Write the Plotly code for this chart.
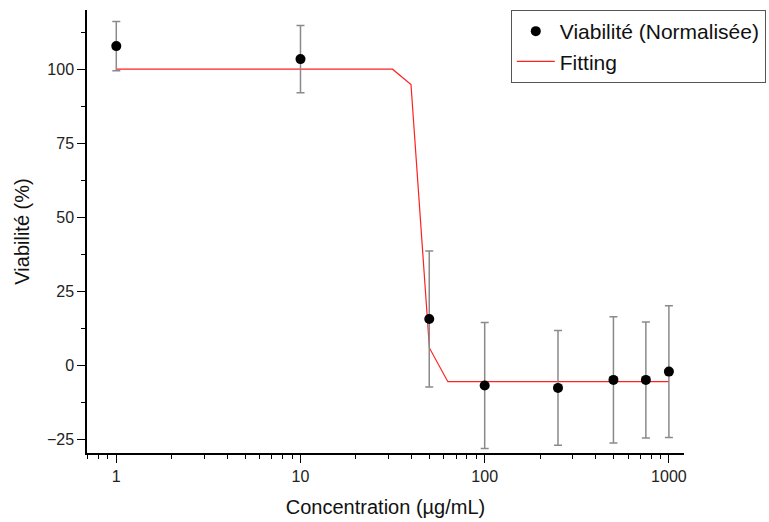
import plotly.graph_objects as go

# Data
conc = [1, 10, 50, 100, 250, 500, 750, 1000]
viab = [107.8, 103.4, 15.6, -6.9, -7.7, -5.0, -5.0, -2.2]
err = [8.3, 11.4, 23.0, 21.3, 19.4, 21.3, 19.6, 22.3]

fit_x = [1, 31.6, 39.8, 50.1, 63.1, 1000]
fit_y = [100.0, 100.0, 94.8, 5.8, -5.6, -5.6]

x_ticks = [1, 10, 100, 1000]
x_minor = [0.7, 0.8, 0.9, 2, 3, 4, 5, 6, 7, 8, 9, 20, 30, 40, 50, 60, 70, 80, 90,
           200, 300, 400, 500, 600, 700, 800, 900]
y_ticks = [-25, 0, 25, 50, 75, 100]

FONT = "Liberation Sans, Arial, sans-serif"

fig = go.Figure()
fig.add_trace(go.Scatter(
    x=fit_x, y=fit_y, mode="lines", name="Fitting",
    line=dict(color="#ff2020", width=1.2), legendrank=2,
))
fig.add_trace(go.Scatter(
    x=conc, y=viab, mode="markers", name="Viabilité (Normalisée)",
    marker=dict(color="black", size=10),
    error_y=dict(type="data", array=err, visible=True, color="#8a8a8a",
                 thickness=1.5, width=4),
    legendrank=1,
))

fig.update_layout(
    width=769, height=522,
    margin=dict(l=87, r=85, t=10, b=69, autoexpand=False),
    paper_bgcolor="white", plot_bgcolor="white",
    font=dict(family=FONT, color="#222222"),
    showlegend=True,
    legend=dict(
        x=1.137, xanchor="right", y=1.0, yanchor="top",
        bordercolor="#555555", borderwidth=1, bgcolor="white",
        font=dict(size=21, family=FONT, color="#111111"),
        tracegroupgap=0, itemwidth=38,
    ),
)
fig.update_xaxes(
    type="log", range=[-0.159, 3.082],
    tickvals=x_ticks, ticktext=[str(v) for v in x_ticks],
    ticks="outside", ticklen=8, tickwidth=1.3, tickcolor="black",
    minor=dict(tickvals=x_minor, ticks="outside", ticklen=4, tickwidth=1.2, tickcolor="black"),
    showline=True, linecolor="black", linewidth=1.5,
    showgrid=False, zeroline=False,
    tickfont=dict(size=16, color="#222222"),
    title=dict(text="Concentration (µg/mL)", font=dict(size=20, color="#111111"), standoff=16),
)
fig.update_yaxes(
    range=[-29.7, 120], tickvals=y_ticks,
    ticks="outside", ticklen=8, tickwidth=1.3, tickcolor="black",
    minor=dict(dtick=12.5, tick0=12.5, ticks="outside", ticklen=4, tickwidth=1.2, tickcolor="black"),
    showline=True, linecolor="black", linewidth=1.5,
    showgrid=False, zeroline=False,
    tickfont=dict(size=16, color="#222222"),
    title=dict(text="Viabilité (%)", font=dict(size=20, color="#111111"), standoff=12),
)

fig.write_html("out.html")
